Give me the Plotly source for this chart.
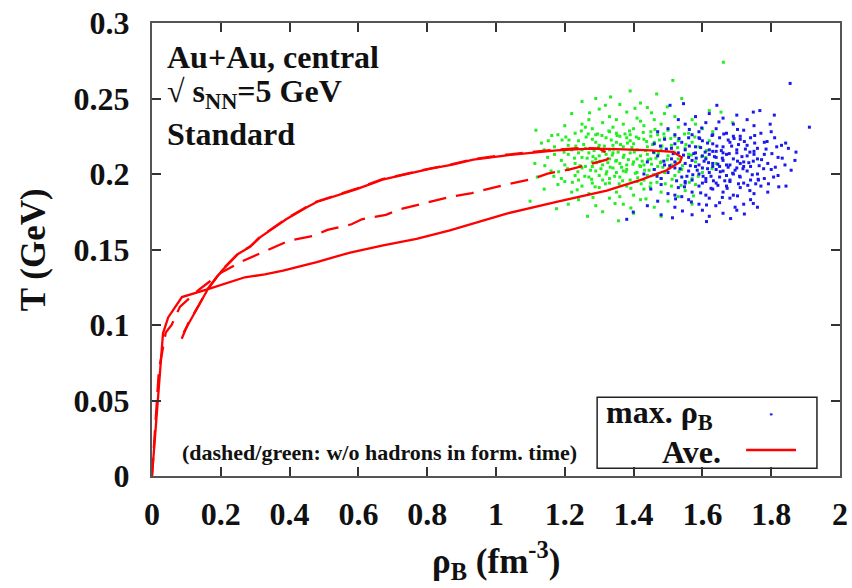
import plotly.graph_objects as go

# ---- average trajectories (rho_B [fm^-3], T [GeV]) ----
solid_rho = [0.0, 0.023, 0.032, 0.047, 0.087, 0.163, 0.221, 0.27, 0.328, 0.381, 0.479, 0.576, 0.672,
             0.769, 0.866, 1.031, 1.176, 1.322, 1.419, 1.496, 1.535, 1.54, 1.515, 1.45, 1.35, 1.273,
             1.176, 1.031, 0.934, 0.87, 0.81, 0.77, 0.67, 0.595, 0.479, 0.45, 0.39, 0.314, 0.285,
             0.25, 0.203, 0.163, 0.134, 0.105, 0.092]
solid_T = [0.0, 0.070, 0.0945, 0.105, 0.1185, 0.1237, 0.128, 0.1316, 0.1335, 0.136, 0.1417, 0.148, 0.1528,
           0.157, 0.1627, 0.1738, 0.1815, 0.189, 0.196, 0.2025, 0.208, 0.211, 0.2146, 0.2157, 0.2165, 0.2168,
           0.2157, 0.2124, 0.2095, 0.206, 0.2036, 0.2015, 0.1963, 0.190, 0.1815, 0.178, 0.170, 0.158, 0.1517,
           0.147, 0.136, 0.124, 0.112, 0.101, 0.095]

dash_rho = [0.0, 0.02, 0.04, 0.057, 0.081, 0.134, 0.163, 0.203, 0.26, 0.30, 0.36, 0.40, 0.47, 0.51, 0.58,
            0.61, 0.68, 0.72, 0.79, 0.83, 0.87, 0.93, 1.0, 1.04, 1.11, 1.15, 1.215, 1.264, 1.322, 1.335,
            1.30, 1.25, 1.176, 1.031, 0.934, 0.87, 0.81, 0.77, 0.67, 0.595, 0.479, 0.45, 0.39, 0.314,
            0.285, 0.25, 0.203, 0.163, 0.134, 0.105, 0.081]
dash_T = [0.0, 0.070, 0.095, 0.100, 0.112, 0.123, 0.128, 0.135, 0.142, 0.146, 0.152, 0.156, 0.159, 0.163,
          0.1667, 0.170, 0.173, 0.1766, 0.1805, 0.1826, 0.185, 0.1874, 0.1914, 0.1936, 0.197, 0.2003, 0.203,
          0.2058, 0.2095, 0.2125, 0.2168, 0.2172, 0.2162, 0.2128, 0.2098, 0.2063, 0.2039, 0.2018, 0.1966,
          0.1903, 0.1818, 0.1783, 0.1703, 0.1583, 0.152, 0.1473, 0.1363, 0.1243, 0.1123, 0.101, 0.088]

# ---- event-by-event points at maximum rho_B ----
green_pts = [
    (1.661, 0.274), (1.514, 0.262), (1.39, 0.255),
    (1.29, 0.250), (1.333, 0.251), (1.467, 0.253), (1.54, 0.250), (1.42, 0.247), (1.36, 0.246), (1.25, 0.248),
    (1.62, 0.242), (1.654, 0.241), (1.30, 0.243), (1.38, 0.241), (1.44, 0.244), (1.49, 0.240), (1.22, 0.240),
    (1.33, 0.238), (1.41, 0.237), (1.27, 0.236), (1.52, 0.238), (1.57, 0.236), (1.46, 0.236), (1.35, 0.236),
    (1.688, 0.234), (1.116, 0.229), (1.20, 0.232), (1.25, 0.233), (1.28, 0.230), (1.31, 0.234), (1.34, 0.231),
    (1.37, 0.233), (1.40, 0.230), (1.43, 0.232), (1.45, 0.228), (1.48, 0.233), (1.50, 0.229), (1.53, 0.231),
    (1.56, 0.227), (1.60, 0.230), (1.23, 0.227), (1.18, 0.226), (1.29, 0.226), (1.35, 0.227), (1.39, 0.226),
    (1.42, 0.235), (1.47, 0.226), (1.26, 0.231), (1.33, 0.228), (1.58, 0.233), (1.63, 0.228),
    (1.152, 0.222), (1.203, 0.2245), (1.17, 0.218), (1.21, 0.219), (1.24, 0.222), (1.26, 0.217), (1.28, 0.223),
    (1.30, 0.219), (1.32, 0.224), (1.33, 0.216), (1.35, 0.221), (1.37, 0.218), (1.38, 0.224), (1.40, 0.220),
    (1.41, 0.216), (1.43, 0.223), (1.44, 0.218), (1.46, 0.221), (1.48, 0.216), (1.49, 0.224), (1.51, 0.219),
    (1.53, 0.222), (1.55, 0.217), (1.57, 0.221), (1.59, 0.218), (1.62, 0.222), (1.25, 0.216), (1.29, 0.221),
    (1.36, 0.225), (1.45, 0.225), (1.22, 0.216), (1.14, 0.216), (1.31, 0.215), (1.39, 0.222), (1.34, 0.219),
    (1.52, 0.225),
    (1.113, 0.207), (1.15, 0.211), (1.19, 0.209), (1.21, 0.213), (1.23, 0.207), (1.25, 0.211), (1.27, 0.214),
    (1.28, 0.208), (1.30, 0.212), (1.31, 0.206), (1.33, 0.210), (1.34, 0.214), (1.36, 0.207), (1.37, 0.211),
    (1.39, 0.214), (1.40, 0.208), (1.42, 0.212), (1.43, 0.206), (1.45, 0.210), (1.46, 0.214), (1.48, 0.208),
    (1.50, 0.212), (1.51, 0.206), (1.53, 0.210), (1.56, 0.213), (1.58, 0.208), (1.61, 0.211), (1.64, 0.207),
    (1.24, 0.214), (1.26, 0.205), (1.29, 0.210), (1.32, 0.213), (1.35, 0.209), (1.38, 0.206), (1.41, 0.210),
    (1.44, 0.213), (1.47, 0.205), (1.20, 0.206), (1.17, 0.213),
    (1.12, 0.198), (1.16, 0.202), (1.19, 0.197), (1.21, 0.203), (1.23, 0.199), (1.25, 0.204), (1.27, 0.198),
    (1.29, 0.202), (1.31, 0.196), (1.32, 0.200), (1.34, 0.204), (1.36, 0.198), (1.37, 0.202), (1.39, 0.196),
    (1.41, 0.201), (1.42, 0.205), (1.44, 0.199), (1.46, 0.203), (1.48, 0.197), (1.49, 0.201), (1.52, 0.199),
    (1.54, 0.203), (1.57, 0.197), (1.60, 0.201), (1.24, 0.196), (1.28, 0.205), (1.33, 0.197), (1.38, 0.203),
    (1.43, 0.196), (1.47, 0.200), (1.35, 0.201), (1.30, 0.199),
    (1.14, 0.190), (1.18, 0.193), (1.22, 0.188), (1.25, 0.192), (1.27, 0.187), (1.30, 0.191), (1.33, 0.194),
    (1.35, 0.188), (1.38, 0.192), (1.40, 0.186), (1.43, 0.190), (1.45, 0.194), (1.48, 0.188), (1.51, 0.192),
    (1.55, 0.189), (1.58, 0.193), (1.28, 0.194), (1.36, 0.185), (1.41, 0.195), (1.20, 0.195),
    (1.099, 0.182), (1.176, 0.177), (1.24, 0.183), (1.29, 0.179), (1.33, 0.184), (1.37, 0.180), (1.42, 0.183),
    (1.46, 0.178), (1.50, 0.182), (1.53, 0.185), (1.21, 0.180), (1.57, 0.180),
    (1.266, 0.172), (1.356, 0.169), (1.40, 0.174), (1.31, 0.175), (1.48, 0.172),
    (1.255, 0.2195), (1.265, 0.2105), (1.275, 0.2025), (1.285, 0.2155), (1.295, 0.2265), (1.305, 0.2035),
    (1.315, 0.2185), (1.325, 0.2075), (1.335, 0.2225), (1.345, 0.1985), (1.355, 0.2145), (1.365, 0.2045),
    (1.375, 0.2265), (1.385, 0.2095), (1.395, 0.2175), (1.405, 0.2005), (1.415, 0.2235), (1.425, 0.2085),
    (1.435, 0.2155), (1.445, 0.2025), (1.455, 0.2195), (1.465, 0.2105), (1.475, 0.2225), (1.485, 0.2045),
    (1.495, 0.2155), (1.262, 0.2245), (1.278, 0.1965), (1.292, 0.2075), (1.308, 0.2255), (1.322, 0.2015),
    (1.338, 0.2125), (1.352, 0.2255), (1.368, 0.1955), (1.382, 0.2205), (1.398, 0.2065), (1.412, 0.1975),
    (1.428, 0.2275), (1.442, 0.2095), (1.458, 0.1995), (1.472, 0.2135), (1.488, 0.2265), (1.502, 0.2035),
    (1.518, 0.2145), (1.532, 0.2015), (1.548, 0.2265), (1.228, 0.2105), (1.212, 0.2225), (1.238, 0.2015),
    (1.248, 0.2285), (1.198, 0.2145),
    (1.232, 0.2185), (1.244, 0.2055), (1.258, 0.1985), (1.268, 0.2265), (1.282, 0.2115), (1.288, 0.1915),
    (1.298, 0.2175), (1.302, 0.2085), (1.318, 0.1935), (1.328, 0.2285), (1.332, 0.2045), (1.342, 0.2165),
    (1.348, 0.2085), (1.358, 0.1935), (1.362, 0.2195), (1.372, 0.2125), (1.378, 0.2015), (1.388, 0.2285),
    (1.392, 0.1905), (1.402, 0.2145), (1.408, 0.2245), (1.418, 0.2055), (1.422, 0.1935), (1.432, 0.2025),
    (1.438, 0.2215), (1.448, 0.1915), (1.452, 0.2065), (1.462, 0.2295), (1.468, 0.1945), (1.478, 0.2075),
    (1.482, 0.2185), (1.492, 0.1935), (1.498, 0.2095), (1.508, 0.2235), (1.512, 0.1965), (1.522, 0.2075),
    (1.528, 0.2175), (1.538, 0.1925), (1.542, 0.2055), (1.552, 0.2195), (1.562, 0.1945), (1.568, 0.2125),
    (1.578, 0.2245), (1.588, 0.1985), (1.598, 0.2115), (1.222, 0.1945), (1.208, 0.2035), (1.192, 0.2225),
    (1.182, 0.2015), (1.168, 0.1985), (1.162, 0.2255), (1.142, 0.2055), (1.132, 0.2205), (1.272, 0.2405),
    (1.318, 0.2455), (1.404, 0.2435), (1.452, 0.2405), (1.498, 0.2445), (1.346, 0.1805), (1.392, 0.1775),
    (1.436, 0.1835), (1.282, 0.1845), (1.236, 0.1895), (1.612, 0.2155), (1.628, 0.2035), (1.574, 0.1855),
]

blue_pts = [
    (1.855, 0.260), (1.809, 0.239), (1.767, 0.242), (1.748, 0.241), (1.506, 0.2455), (1.545, 0.2466),
    (1.642, 0.2455), (1.58, 0.238), (1.66, 0.237), (1.70, 0.239), (1.62, 0.240), (1.73, 0.236), (1.53, 0.236),
    (1.911, 0.231), (1.797, 0.233), (1.50, 0.230), (1.55, 0.233), (1.59, 0.228), (1.61, 0.234), (1.64, 0.230),
    (1.67, 0.227), (1.69, 0.233), (1.72, 0.229), (1.75, 0.232), (1.77, 0.227), (1.57, 0.226), (1.47, 0.228),
    (1.63, 0.226), (1.80, 0.228), (1.71, 0.225), (1.52, 0.226),
    (1.85, 0.217), (1.816, 0.218), (1.46, 0.220), (1.49, 0.223), (1.51, 0.217), (1.54, 0.221), (1.56, 0.224),
    (1.58, 0.218), (1.60, 0.222), (1.62, 0.216), (1.63, 0.220), (1.65, 0.224), (1.66, 0.218), (1.68, 0.221),
    (1.70, 0.216), (1.71, 0.223), (1.73, 0.219), (1.74, 0.224), (1.76, 0.217), (1.78, 0.221), (1.81, 0.224),
    (1.83, 0.219), (1.55, 0.216), (1.64, 0.215), (1.69, 0.225), (1.59, 0.224), (1.75, 0.215), (1.52, 0.220),
    (1.869, 0.209), (1.44, 0.208), (1.47, 0.212), (1.49, 0.206), (1.51, 0.210), (1.53, 0.214), (1.55, 0.207),
    (1.56, 0.211), (1.58, 0.214), (1.59, 0.206), (1.61, 0.210), (1.62, 0.213), (1.63, 0.207), (1.64, 0.211),
    (1.65, 0.205), (1.66, 0.209), (1.67, 0.213), (1.68, 0.206), (1.69, 0.210), (1.70, 0.214), (1.72, 0.208),
    (1.73, 0.212), (1.74, 0.205), (1.76, 0.210), (1.78, 0.213), (1.79, 0.207), (1.82, 0.211), (1.84, 0.206),
    (1.57, 0.209), (1.60, 0.212), (1.66, 0.214), (1.71, 0.207), (1.75, 0.213), (1.52, 0.208), (1.63, 0.215),
    (1.67, 0.206),
    (1.43, 0.200), (1.46, 0.203), (1.48, 0.197), (1.50, 0.201), (1.52, 0.204), (1.54, 0.198), (1.56, 0.202),
    (1.57, 0.196), (1.59, 0.200), (1.60, 0.204), (1.61, 0.197), (1.62, 0.201), (1.64, 0.203), (1.65, 0.198),
    (1.66, 0.202), (1.68, 0.196), (1.69, 0.200), (1.70, 0.204), (1.71, 0.198), (1.73, 0.202), (1.74, 0.196),
    (1.76, 0.200), (1.78, 0.197), (1.80, 0.203), (1.82, 0.199), (1.807, 0.198), (1.63, 0.205), (1.67, 0.199),
    (1.58, 0.205), (1.72, 0.205), (1.55, 0.195), (1.61, 0.195), (1.763, 0.196),
    (1.843, 0.192), (1.738, 0.189), (1.45, 0.190), (1.48, 0.193), (1.50, 0.187), (1.53, 0.191), (1.55, 0.194),
    (1.57, 0.188), (1.59, 0.192), (1.61, 0.186), (1.63, 0.190), (1.64, 0.194), (1.66, 0.188), (1.67, 0.192),
    (1.69, 0.186), (1.71, 0.191), (1.72, 0.194), (1.75, 0.187), (1.77, 0.192), (1.79, 0.188), (1.60, 0.194),
    (1.68, 0.195), (1.52, 0.186),
    (1.695, 0.178), (1.639, 0.179), (1.399, 0.1748), (1.47, 0.182), (1.52, 0.178), (1.56, 0.183), (1.59, 0.180),
    (1.62, 0.184), (1.65, 0.181), (1.68, 0.184), (1.72, 0.180), (1.74, 0.183), (1.60, 0.176), (1.54, 0.185),
    (1.76, 0.178), (1.44, 0.179), (1.70, 0.176),
    (1.513, 0.171), (1.38, 0.170), (1.57, 0.173), (1.62, 0.172), (1.66, 0.174), (1.48, 0.173),
    (1.605, 0.2085), (1.615, 0.2035), (1.625, 0.1985), (1.635, 0.2115), (1.645, 0.2065), (1.655, 0.2155),
    (1.585, 0.2025), (1.575, 0.2135), (1.595, 0.2175), (1.665, 0.1955), (1.675, 0.2045), (1.685, 0.2185),
    (1.695, 0.2025), (1.705, 0.1935), (1.715, 0.2115), (1.725, 0.2165), (1.735, 0.2075), (1.745, 0.1995),
    (1.565, 0.2055), (1.555, 0.1985), (1.545, 0.2125), (1.535, 0.2035), (1.525, 0.1955), (1.515, 0.2135),
    (1.505, 0.2055), (1.495, 0.2165), (1.615, 0.2205), (1.645, 0.1925), (1.675, 0.2225), (1.705, 0.2195),
    (1.765, 0.2055), (1.785, 0.2165), (1.755, 0.1935), (1.625, 0.1905), (1.595, 0.1875),
    (1.532, 0.2235), (1.548, 0.1915), (1.562, 0.2185), (1.572, 0.1995), (1.582, 0.2105), (1.592, 0.2235),
    (1.602, 0.1985), (1.608, 0.2145), (1.618, 0.2075), (1.628, 0.2255), (1.632, 0.1955), (1.642, 0.2185),
    (1.652, 0.2015), (1.658, 0.2105), (1.662, 0.2265), (1.672, 0.1905), (1.678, 0.2135), (1.688, 0.2005),
    (1.692, 0.2235), (1.702, 0.2085), (1.708, 0.1985), (1.718, 0.2035), (1.722, 0.2215), (1.732, 0.1925),
    (1.738, 0.2145), (1.748, 0.2085), (1.752, 0.2255), (1.762, 0.1965), (1.772, 0.2095), (1.778, 0.2035),
    (1.788, 0.2215), (1.792, 0.1935), (1.802, 0.2135), (1.812, 0.2045), (1.822, 0.1915), (1.832, 0.2105),
    (1.842, 0.2205), (1.858, 0.2025), (1.872, 0.2145), (1.488, 0.2085), (1.478, 0.2185), (1.468, 0.1985),
    (1.458, 0.2145), (1.522, 0.1835), (1.568, 0.1815), (1.612, 0.1795), (1.658, 0.1845), (1.702, 0.1855),
    (1.748, 0.1805), (1.598, 0.2305), (1.648, 0.2345), (1.702, 0.2295), (1.752, 0.2205), (1.562, 0.2295),
    (1.682, 0.1705), (1.722, 0.1735), (1.612, 0.1685), (1.542, 0.1755),
]

x_ticks = [0, 0.2, 0.4, 0.6, 0.8, 1, 1.2, 1.4, 1.6, 1.8, 2]
x_ticktext = ["0", "0.2", "0.4", "0.6", "0.8", "1", "1.2", "1.4", "1.6", "1.8", "2"]
y_ticks = [0, 0.05, 0.1, 0.15, 0.2, 0.25, 0.3]
y_ticktext = ["0", "0.05", "0.1", "0.15", "0.2", "0.25", "0.3"]

SERIF = "Times New Roman, Liberation Serif, DejaVu Serif, serif"
TXT = "#111111"
RED = "#ff0000"


def bold(s):
    return "<b>" + s + "</b>"


fig = go.Figure()
fig.add_trace(go.Scatter(x=[p[0] for p in green_pts], y=[p[1] for p in green_pts], mode="markers",
                         marker=dict(color="#22ee22", size=3, symbol="square"), showlegend=False))
fig.add_trace(go.Scatter(x=[p[0] for p in blue_pts], y=[p[1] for p in blue_pts], mode="markers",
                         marker=dict(color="#1a1aee", size=3, symbol="square"), showlegend=False))
fig.add_trace(go.Scatter(x=dash_rho, y=dash_T, mode="lines",
                         line=dict(color=RED, width=2.3, dash="18px,10px"), showlegend=False))
fig.add_trace(go.Scatter(x=solid_rho, y=solid_T, mode="lines",
                         line=dict(color=RED, width=2.3), showlegend=False))

axis_common = dict(showgrid=False, zeroline=False, showline=True, linecolor="#555555", linewidth=2,
                   mirror="ticks", ticks="inside", ticklen=9, tickwidth=1.5, tickcolor="#333333",
                   automargin=False,
                   tickfont=dict(family=SERIF, size=32, color=TXT, weight="bold"))

fig.update_xaxes(range=[0, 2], tickvals=x_ticks, ticktext=[bold(t) for t in x_ticktext],
                 ticklabelstandoff=9, **axis_common)
fig.update_yaxes(range=[0, 0.3], tickvals=y_ticks, ticktext=[bold(t) for t in y_ticktext],
                 ticklabelstandoff=14, **axis_common)

annotations = [
    dict(x=0.038, y=0.2772, xref="x", yref="y", xanchor="left", yanchor="middle", showarrow=False,
         text=bold("Au+Au, central"), font=dict(family=SERIF, size=32, color=TXT)),
    dict(x=0.038, y=0.2535, xref="x", yref="y", xanchor="left", yanchor="middle", showarrow=False,
         text=bold("√ s<sub>NN</sub>=5 GeV"), font=dict(family=SERIF, size=32, color=TXT)),
    dict(x=0.038, y=0.2262, xref="x", yref="y", xanchor="left", yanchor="middle", showarrow=False,
         text=bold("Standard"), font=dict(family=SERIF, size=32, color=TXT)),
    dict(x=0.08, y=0.0155, xref="x", yref="y", xanchor="left", yanchor="middle", showarrow=False,
         text=bold("(dashed/green: w/o hadrons in form. time)"), font=dict(family=SERIF, size=22, color=TXT)),
    # legend texts
    dict(x=1.315, y=0.0405, xref="x", yref="y", xanchor="left", yanchor="middle", showarrow=False,
         text=bold("max. ρ<sub>B</sub>"), font=dict(family=SERIF, size=32, color=TXT)),
    dict(x=1.66, y=0.0158, xref="x", yref="y", xanchor="right", yanchor="middle", showarrow=False,
         text=bold("Ave."), font=dict(family=SERIF, size=32, color=TXT)),
    # axis titles
    dict(x=-0.172, y=0.5, xref="paper", yref="paper", xanchor="center", yanchor="middle", showarrow=False,
         textangle=-90, text=bold("T (GeV)"), font=dict(family=SERIF, size=35, color=TXT)),
    dict(x=0.5, y=-0.186, xref="paper", yref="paper", xanchor="center", yanchor="middle", showarrow=False,
         text=bold("ρ<sub>B</sub> (fm<sup>-3</sup>)"), font=dict(family=SERIF, size=35, color=TXT)),
]

shapes = [
    dict(type="rect", xref="x", yref="y", x0=1.294, x1=1.933, y0=0.0052, y1=0.0522,
         line=dict(color="#222222", width=1.5), fillcolor="white", layer="below"),
    dict(type="line", xref="x", yref="y", x0=1.727, x1=1.872, y0=0.0172, y1=0.0172,
         line=dict(color=RED, width=2.5)),
    dict(type="rect", xref="x", yref="y", x0=1.797, x1=1.803, y0=0.0403, y1=0.0413,
         line=dict(color="#1a1aee", width=0.5), fillcolor="#1a1aee"),
]

fig.update_layout(
    width=852, height=588,
    margin=dict(l=152, r=12, t=23, b=112),
    paper_bgcolor="white", plot_bgcolor="white",
    font=dict(family=SERIF),
    annotations=annotations, shapes=shapes,
    showlegend=False,
)

fig.write_html("out.html")
